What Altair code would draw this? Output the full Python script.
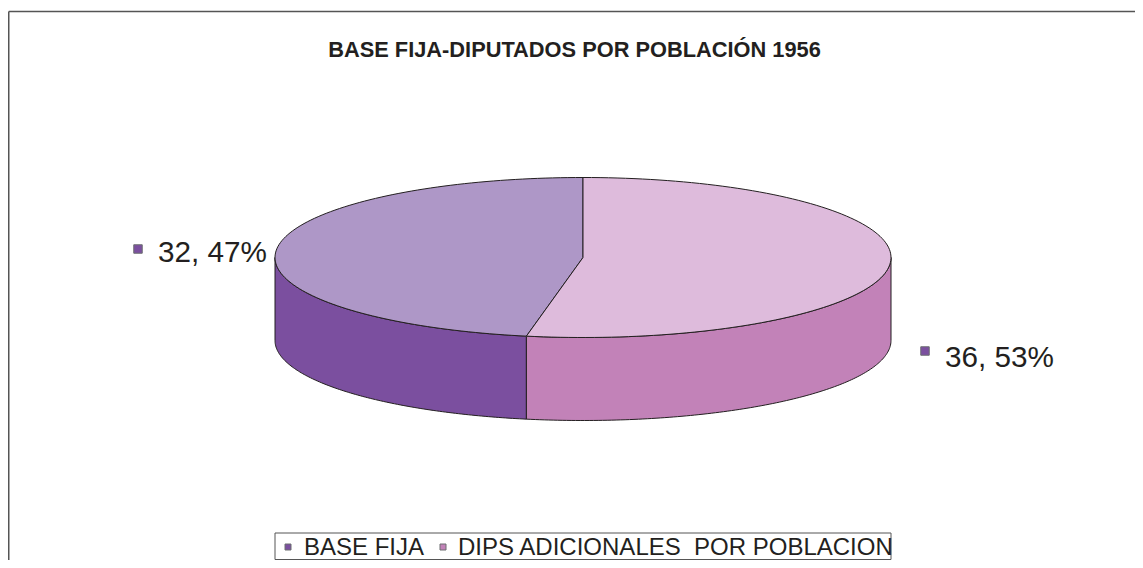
import math
import altair as alt

# --- data
categories = ["BASE FIJA", "DIPS ADICIONALES \u00a0POR POBLACION"]
values = [32, 36]
percent_labels = ["32, 47%", "36, 53%"]
title_text = "BASE FIJA-DIPUTADOS POR POBLACIÓN 1956"
figure_text = "Figura"

# --- layout (page pixels; the page margin is 8)
M = 8
W, H = 1143 - 2 * M, 568 - 2 * M
CX, CY, RX, RY, DEPTH = 583, 257.5, 308, 80, 83
TOP_L, TOP_R, SIDE_L, SIDE_R = "#AE97C7", "#DEBBDC", "#7B4F9F", "#C282B8"
LINE = "#231F20"
FONT = "Liberation Sans"

total = sum(values)
# slices start at 12 o'clock: the second series runs clockwise first
split = 360 * values[1] / total


def pt(t, dy=0.0):
    r = math.radians(t)
    return [CX + RX * math.sin(r) - M, CY - RY * math.cos(r) + dy - M]


def arc(a, b, dy=0.0, n=120):
    return [pt(a + (b - a) * i / n, dy) for i in range(n + 1)]


def feature(ring, fill):
    ring = ring + [ring[0]]
    return {"type": "Feature", "properties": {"fill": fill},
            "geometry": {"type": "Polygon", "coordinates": [ring]}}


center = [CX - M, CY - M]
shapes = [
    feature(arc(split, 270) + arc(270, split, DEPTH), SIDE_L),
    feature(arc(90, split) + arc(split, 90, DEPTH), SIDE_R),
    feature([center] + arc(split, 360), TOP_L),
    feature([center] + arc(0, split), TOP_R),
]

pie = (
    alt.Chart(alt.Data(values=shapes))
    .mark_geoshape(stroke=LINE, strokeWidth=1, strokeJoin="round")
    .encode(fill=alt.Fill("properties.fill:N", scale=None))
    .project(type="identity", scale=1, translate=[0, 0])
)


def text(s, x, y, size, align="left", **kw):
    return alt.Chart(alt.Data(values=[{"t": s}])).mark_text(
        font=FONT, fontSize=size, align=align, baseline="alphabetic",
        color=kw.pop("color", "#231F20"), **kw
    ).encode(x=alt.value(x - M), y=alt.value(y - M), text="t:N")


def square(x, y, color, size=72):
    return alt.Chart(alt.Data(values=[{"a": 1}])).mark_square(
        size=size, color=color, stroke="#6D6E71", strokeWidth=1, opacity=1
    ).encode(x=alt.value(x - M), y=alt.value(y - M))


def rule(x, y, x2=None, y2=None, color="#555555", width=1.5):
    enc = {"x": alt.value(x - M), "y": alt.value(y - M)}
    if x2 is not None:
        enc["x2"] = alt.value(x2 - M)
    if y2 is not None:
        enc["y2"] = alt.value(y2 - M)
    return alt.Chart(alt.Data(values=[{"a": 1}])).mark_rule(
        color=color, strokeWidth=width
    ).encode(**enc)


legend_box = alt.Chart(alt.Data(values=[{"a": 1}])).mark_rect(
    fill="white", stroke="#555555", strokeWidth=1
).encode(x=alt.value(275 - M), x2=alt.value(891 - M),
         y=alt.value(533 - M), y2=alt.value(559.5 - M))

chart = alt.layer(
    rule(8.75, 11.5, x2=1143),
    rule(8.75, 11.5, y2=568),
    pie,
    text(figure_text, 1131, 3, 25, align="right", fontStyle="italic"),
    text(title_text, 574.5, 57, 21.8, align="center", fontWeight="bold"),
    square(138, 249, SIDE_L),
    text(percent_labels[0], 158, 262, 29.7),
    square(925, 351, SIDE_L),
    text(percent_labels[1], 945, 367, 29.7),
    legend_box,
    square(288, 547, SIDE_L, 36),
    text(categories[0], 304, 555, 24),
    square(443, 547, SIDE_R, 36),
    text(categories[1], 458, 555, 24),
).properties(
    width=W, height=H, padding=0,
    autosize=alt.AutoSizeParams(type="none"),
).configure_view(stroke=None)

chart.save("out.html", embed_options={"renderer": "svg", "actions": False})
